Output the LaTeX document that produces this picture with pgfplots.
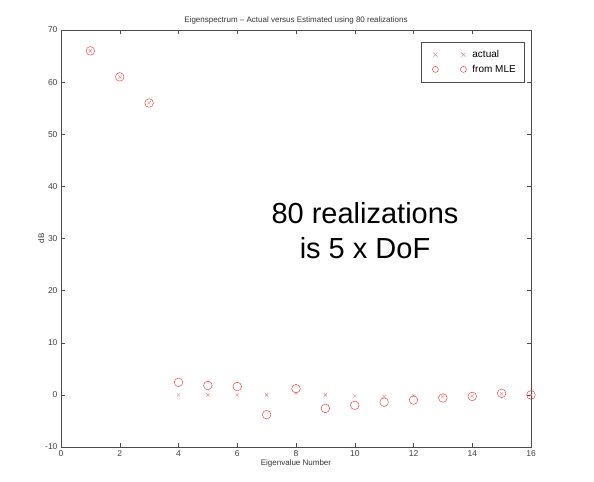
\documentclass[border=0pt]{standalone}
\usepackage{pgfplots}
\pgfplotsset{compat=1.18}
\usepackage{fontspec}
\setmainfont{Liberation Sans}
\definecolor{mred}{RGB}{235,40,40}
\definecolor{lred}{RGB}{240,130,130}
\begin{document}
\begin{tikzpicture}
\begin{axis}[
  scale only axis, width=470pt, height=417pt,
  xmin=0, xmax=16, ymin=-10, ymax=70,
  xtick={0,2,...,16}, ytick={-10,0,...,70},
  tick align=inside, major tick length=4pt,
  tick style={black!70, thin},
  axis line style={black!70, thin},
  /pgf/number format/assume math mode=true,
  tick label style={font=\fontsize{8.5}{10}\selectfont, text=black!75},
  title={Eigenspectrum -- Actual versus Estimated using 80 realizations},
  title style={font=\fontsize{8}{9}\selectfont, text=black!80, yshift=-4pt},
  xlabel={Eigenvalue Number},
  ylabel={dB},
  xlabel style={font=\fontsize{8}{9}\selectfont, text=black!80, yshift=4pt},
  ylabel style={font=\fontsize{8}{9}\selectfont, text=black!80, yshift=-6pt},
  legend style={at={(0.985,0.971)}, anchor=north east, draw=black!70, thin,
    font=\fontsize{10}{11}\selectfont, inner xsep=6pt, inner ysep=6pt, row sep=2pt,
    column sep=4pt},
  legend cell align=left,
  legend image code/.code={\path (0pt,0pt); \draw[#1, mark size=3pt] plot coordinates {(8pt,0pt) (36pt,0pt)};},
]
\addplot[only marks, mark=x, mark size=2.2pt, color=lred, thin] coordinates {
(1,66) (2,61) (3,56) (4,0) (5,0) (6,0) (7,0) (8,0.3) (9,0) (10,-0.2)
(11,-0.3) (12,-0.2) (13,-0.3) (14,-0.2) (15,0.2) (16,0)};
\addlegendentry{actual}
\addplot[only marks, mark=o, mark size=4.3pt, color=mred, thin] coordinates {
(1,66) (2,61) (3,56) (4,2.4) (5,1.8) (6,1.6) (7,-3.8) (8,1.2) (9,-2.6) (10,-2.0)
(11,-1.4) (12,-1.0) (13,-0.6) (14,-0.3) (15,0.3) (16,0)};
\addlegendentry{from MLE}
\node[font=\fontsize{29}{35}\selectfont, align=center] at (axis cs:10.35,31.6) {80 realizations\\is 5 x DoF};
\end{axis}
\path (current axis.south west) ++(-61pt,-35pt) coordinate (bbl);
\path (current axis.north east) ++(63pt,30pt) coordinate (bbr);
\path[use as bounding box] (bbl) rectangle (bbr);
\end{tikzpicture}
\end{document}
